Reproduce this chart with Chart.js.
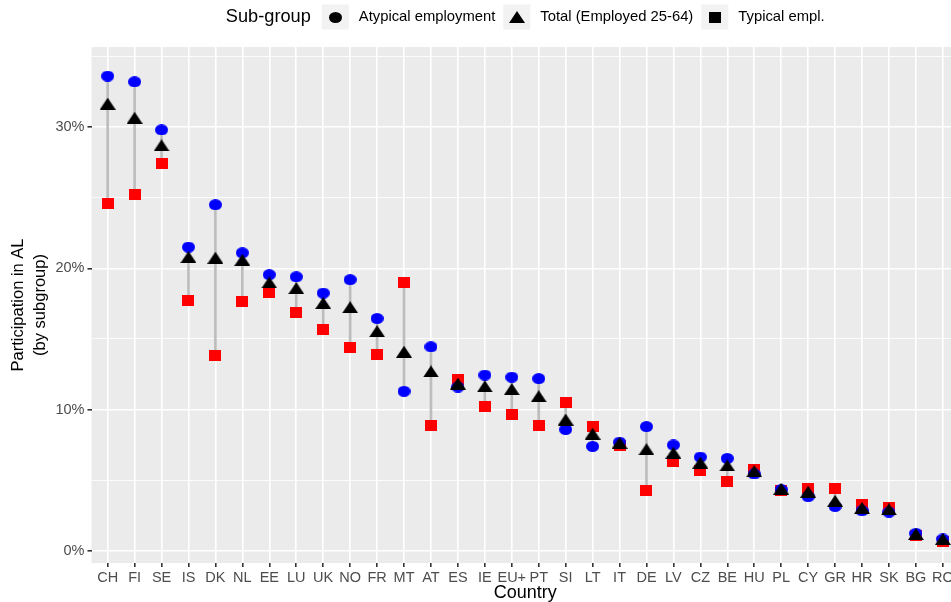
<!DOCTYPE html>
<html>
<head>
<meta charset="utf-8">
<script src="https://cdn.jsdelivr.net/npm/chart.js@4/dist/chart.umd.min.js"></script>
<style>
  html, body { margin: 0; padding: 0; background: #ffffff; overflow: hidden; }
  #wrap { position: relative; width: 966px; height: 602px; }
</style>
</head>
<body>
<div id="wrap"><canvas id="chart"></canvas></div>
<script>
// Participation in adult learning (%), by employment sub-group
const countries = ['CH','FI','SE','IS','DK','NL','EE','LU','UK','NO','FR','MT','AT','ES','IE','EU+','PT','SI','LT','IT','DE','LV','CZ','BE','HU','PL','CY','GR','HR','SK','BG','RO'];
const atypical = [33.6, 33.2, 29.8, 21.5, 24.5, 21.1, 19.55, 19.4, 18.25, 19.2, 16.45, 11.3, 14.45, 11.6, 12.45, 12.3, 12.2, 8.6, 7.4, 7.7, 8.8, 7.5, 6.65, 6.55, 5.45, 4.35, 3.85, 3.15, 2.85, 2.75, 1.25, 0.85];
const total    = [31.65, 30.65, 28.7, 20.8, 20.75, 20.6, 19.0, 18.6, 17.55, 17.25, 15.55, 14.1, 12.7, 11.85, 11.65, 11.45, 10.95, 9.3, 8.3, 7.65, 7.2, 6.95, 6.25, 6.05, 5.65, 4.4, 4.2, 3.55, 3.05, 2.95, 1.2, 0.85];
const typical  = [24.6, 25.2, 27.4, 17.7, 13.8, 17.65, 18.3, 16.9, 15.7, 14.4, 13.9, 19.0, 8.85, 12.15, 10.2, 9.65, 8.85, 10.5, 8.8, 7.45, 4.25, 6.35, 5.7, 4.95, 5.8, 4.3, 4.45, 4.4, 3.3, 3.1, 1.1, 0.7];
const yTicks = [0, 5, 10, 15, 20, 25, 30, 35];
const legendTitle = 'Sub-group';
const legendLabels = ['Atypical employment', 'Total (Employed 25-64)', 'Typical empl.'];

const FONT = "'Liberation Sans', Arial, Helvetica, sans-serif";

// Marker bitmaps used as point styles
function makeMarker(w, h, color, shape) {
  const c = document.createElement('canvas');
  c.width = w; c.height = h;
  const g = c.getContext('2d');
  g.fillStyle = color;
  g.beginPath();
  if (shape === 'circle') {
    g.ellipse(w / 2, h / 2, w / 2, h / 2, 0, 0, Math.PI * 2);
  } else if (shape === 'triangle') {
    g.moveTo(w / 2, 0); g.lineTo(w, h); g.lineTo(0, h); g.closePath();
  } else {
    g.rect(0, 0, w, h);
  }
  g.fill();
  return c;
}
const shapes = ['circle', 'triangle', 'square'];
const sizes = { circle: [13, 11], triangle: [16, 12], square: [12, 11] };
const mk = (shape, color) => makeMarker(sizes[shape][0], sizes[shape][1], color, shape);

const pts = arr => arr.map((v, i) => ({ x: i, y: v }));
const ranges = countries.map((c, i) => {
  const vals = [atypical[i], total[i], typical[i]];
  return { x: i, y: [Math.min(...vals), Math.max(...vals)] };
});

// Grey panel behind the plot area
const panelBg = {
  id: 'panelBg',
  beforeDraw(chart) {
    const { ctx, chartArea: a } = chart;
    ctx.save();
    ctx.fillStyle = '#EBEBEB';
    ctx.fillRect(a.left, a.top, a.right - a.left, a.bottom - a.top);
    ctx.restore();
  }
};

// Legend row across the top: title then three keyed entries
const topLegend = {
  id: 'topLegend',
  afterDraw(chart) {
    const { ctx, chartArea: a } = chart;
    const cy = 17;
    const boxW = 27, boxH = 25;
    const titleFont = `18.2px ${FONT}`, labelFont = `14.8px ${FONT}`;
    ctx.save();
    ctx.textBaseline = 'middle';
    ctx.font = titleFont;
    const tW = ctx.measureText(legendTitle).width;
    ctx.font = labelFont;
    const lW = legendLabels.map(l => ctx.measureText(l).width);
    const gapTitle = 11, gapText = 10, gapItem = 8;
    let totalW = tW + gapTitle;
    lW.forEach((w, i) => { totalW += boxW + gapText + w + (i < lW.length - 1 ? gapItem : 0); });
    let x = (a.left + a.right) / 2 - totalW / 2;
    ctx.fillStyle = '#000000';
    ctx.font = titleFont;
    ctx.fillText(legendTitle, x, cy);
    x += tW + gapTitle;
    legendLabels.forEach((label, i) => {
      ctx.fillStyle = '#F2F2F2';
      ctx.fillRect(x, cy - boxH / 2, boxW, boxH);
      const m = mk(shapes[i], '#000000');
      ctx.drawImage(m, Math.round(x + boxW / 2 - m.width / 2), Math.round(cy - m.height / 2));
      x += boxW + gapText;
      ctx.fillStyle = '#000000';
      ctx.font = labelFont;
      ctx.fillText(label, x, cy);
      x += lW[i] + gapItem;
    });
    ctx.restore();
  }
};

const pointDataset = (label, arr, shape, color, order) => ({
  type: 'scatter',
  label,
  data: pts(arr),
  pointStyle: mk(shape, color),
  pointRadius: 6,
  pointHoverRadius: 6,
  order
});

new Chart(document.getElementById('chart'), {
  type: 'scatter',
  data: {
    datasets: [
      {
        type: 'bar',
        label: 'range',
        data: ranges,
        backgroundColor: '#BDBDBD',
        borderWidth: 0,
        barThickness: 2,
        grouped: false,
        order: 4
      },
      pointDataset(legendLabels[2], typical, 'square', '#FF0000', 3),
      pointDataset(legendLabels[0], atypical, 'circle', '#0000FF', 2),
      pointDataset(legendLabels[1], total, 'triangle', '#000000', 1)
    ]
  },
  options: {
    responsive: true,
    maintainAspectRatio: false,
    animation: false,
    events: [],
    layout: { padding: { top: 47, right: 3.8, left: 0, bottom: 0 } },
    plugins: { legend: { display: false }, tooltip: { enabled: false } },
    scales: {
      x: {
        type: 'linear',
        min: -0.6,
        max: 31.6,
        bounds: 'data',
        offset: false,
        afterBuildTicks: s => { s.ticks = countries.map((c, i) => ({ value: i })); },
        afterFit: s => { s.height = 39; },
        ticks: {
          autoSkip: false, maxRotation: 0, minRotation: 0,
          color: '#4D4D4D', font: { family: FONT, size: 14.5 }, padding: 2,
          callback: v => countries[v]
        },
        grid: { color: '#FFFFFF', lineWidth: 1.6, tickColor: '#333333', tickLength: 4, offset: false },
        border: { display: false },
        title: { display: true, text: 'Country', color: '#000000', font: { family: FONT, size: 18, lineHeight: 1.0 }, padding: { top: 0, bottom: 0 } }
      },
      y: {
        type: 'linear',
        min: -0.85,
        max: 35.66,
        bounds: 'data',
        afterBuildTicks: s => { s.ticks = yTicks.map(v => ({ value: v })); },
        afterFit: s => { s.width = 91.5; },
        ticks: {
          color: '#4D4D4D', font: { family: FONT, size: 14.5 }, padding: 3,
          callback: v => (v % 10 === 0 ? v + '%' : '')
        },
        grid: {
          color: '#FFFFFF',
          lineWidth: c => (c.tick && c.tick.value % 10 === 0 ? 1.6 : 0.8),
          tickColor: c => (c.tick && c.tick.value % 10 === 0 ? '#333333' : 'rgba(0,0,0,0)'),
          tickLength: 4
        },
        border: { display: false },
        title: {
          display: true,
          text: ['Participation in AL', '(by subgroup)'],
          color: '#000000',
          font: { family: FONT, size: 16.5, lineHeight: 1.35 },
          padding: { top: 7, bottom: 0 }
        }
      }
    }
  },
  plugins: [panelBg, topLegend]
});
</script>
</body>
</html>
